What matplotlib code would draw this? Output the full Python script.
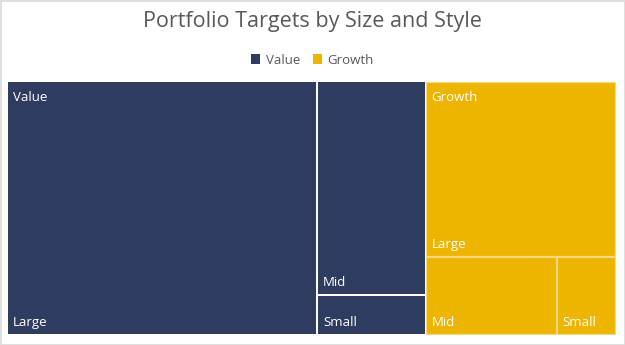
import matplotlib
matplotlib.use("Agg")
import matplotlib.pyplot as plt
from matplotlib.patches import Rectangle

groups = ["Value", "Growth"]
sizes = ["Large", "Mid", "Small"]
value_vals = [50.8, 15.0, 2.8]
growth_vals = [21.6, 6.6, 3.0]
group_colors = {"Value": "#2E3C60", "Growth": "#EDB400"}
title = "Portfolio Targets by Size and Style"

plt.rcParams['font.family'] = ['Open Sans', 'DejaVu Sans']

def worst(row, w):
    s = sum(row)
    rmax, rmin = max(row), min(row)
    return max(w * w * rmax / (s * s), (s * s) / (w * w * rmin))

def layout_row(row, x, y, dx, dy):
    s = sum(row)
    rects = []
    if dx >= dy:  # column on left
        cw = s / dy
        yy = y
        for r in row:
            h = r / cw
            rects.append((x, yy, cw, h))
            yy += h
        return rects, (x + cw, y, dx - cw, dy)
    else:  # row on top
        rh = s / dx
        xx = x
        for r in row:
            w = r / rh
            rects.append((xx, y, w, rh))
            xx += w
        return rects, (x, y + rh, dx, dy - rh)

def squarify(vals, x, y, dx, dy):
    total = sum(vals)
    areas = [v * dx * dy / total for v in vals]
    rects = []
    rem = (x, y, dx, dy)
    i = 0
    while i < len(areas):
        row = [areas[i]]
        i += 1
        w = min(rem[2], rem[3])
        while i < len(areas) and worst(row + [areas[i]], w) <= worst(row, w):
            row.append(areas[i])
            i += 1
        r, rem = layout_row(row, *rem)
        rects.extend(r)
    return rects

W, H = 609.0, 254.0
fig = plt.figure(figsize=(6.25, 3.45), dpi=100)
fig.patch.set_facecolor("white")
fig.add_artist(Rectangle((0.5/625, 0.5/345), 1 - 1/625, 1 - 1/345, transform=fig.transFigure,
                         fill=False, edgecolor="#D9D9D9", linewidth=1.2))

ax = fig.add_axes([7/625, 1 - 335/345, W/625, H/345])
ax.set_xlim(0, W)
ax.set_ylim(H, 0)
ax.axis("off")

group_totals = [sum(value_vals), sum(growth_vals)]
group_rects = squarify(group_totals, 0, 0, W, H)
all_vals = [value_vals, growth_vals]
for g, grect, vals in zip(groups, group_rects, all_vals):
    leaf_rects = squarify(vals, *grect)
    col = group_colors[g]
    for k, (s, (x, y, w, h)) in enumerate(zip(sizes, leaf_rects)):
        ax.add_patch(Rectangle((x, y), w, h, facecolor="white", edgecolor="none"))
        if g == "Growth":
            ax.add_patch(Rectangle((x + 0.6, y + 0.6), w - 1.2, h - 1.2, facecolor=col,
                                   edgecolor="#F5D97F", linewidth=0.9))
        else:
            ax.add_patch(Rectangle((x + 0.6, y + 0.6), w - 1.2, h - 1.2, facecolor=col,
                                   edgecolor="none"))
        ax.text(x + 6, y + h - 6, s, color="white", fontsize=9.5, ha="left", va="bottom")
        if k == 0:
            ax.text(x + 6, y + 10, g, color="white", fontsize=9.5, ha="left", va="top")

fig.text(0.5, 1 - 22/345, title, ha="center", va="center", fontsize=15.5, color="#595959")

leg_y = 1 - 60/345
handles = [Rectangle((0, 0), 1, 1, facecolor=group_colors[g]) for g in groups]
fig.legend(handles, groups, loc="center", bbox_to_anchor=(0.5, leg_y), ncol=2, frameon=False,
           fontsize=9.5, handlelength=0.7, handleheight=0.7, handletextpad=0.4, columnspacing=1.0,
           labelcolor="#595959")

fig.savefig("out.png", dpi=100)
